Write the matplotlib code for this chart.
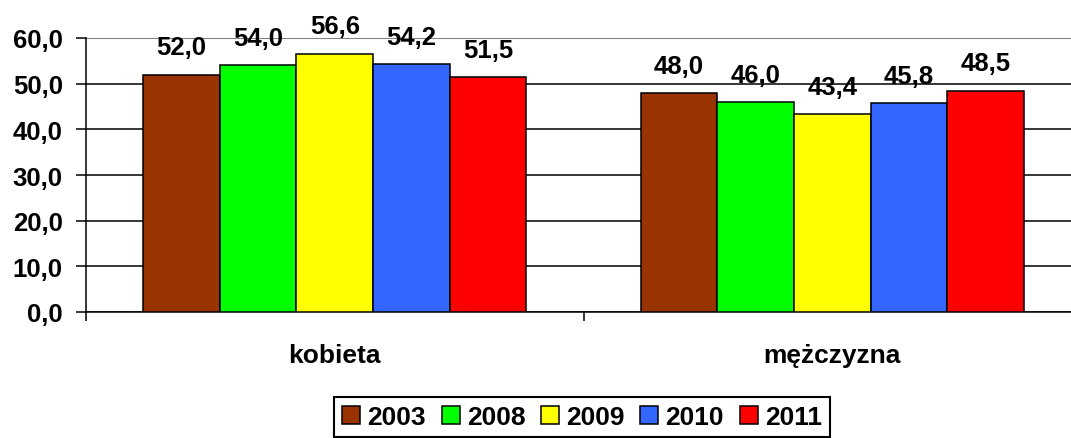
import matplotlib
matplotlib.use("Agg")
import matplotlib.pyplot as plt
import numpy as np

# dane z wykresu
kategorie = ['kobieta', 'mężczyzna']
lata = ['2003', '2008', '2009', '2010', '2011']
wartosci = {
    '2003': [52.0, 48.0],
    '2008': [54.0, 46.0],
    '2009': [56.6, 43.4],
    '2010': [54.2, 45.8],
    '2011': [51.5, 48.5],
}
kolory = ['#993300', '#00FF00', '#FFFF00', '#3366FF', '#FF0000']
y_ticks = [0, 10, 20, 30, 40, 50, 60]

plt.rcParams['font.family'] = ['Liberation Sans', 'DejaVu Sans']
plt.rcParams['font.weight'] = 'bold'

fig = plt.figure(figsize=(10.71, 4.39), dpi=100)
ax = fig.add_axes([86 / 1071, 126 / 439, 995 / 1071, 274 / 439])

x = np.arange(len(kategorie))
szer = 0.154
for i, rok in enumerate(lata):
    poz = x + (i - 2) * szer
    ax.bar(poz, wartosci[rok], width=szer, color=kolory[i], edgecolor='black',
           linewidth=1.1, label=rok, zorder=3)
    for xx, v in zip(poz, wartosci[rok]):
        ax.annotate(f'{v:.1f}'.replace('.', ','), (xx, v), xytext=(0, 14.5),
                    textcoords='offset points', ha='center', va='baseline',
                    fontsize=18.5, fontweight='bold', zorder=4)

ax.set_xlim(-0.5, 1.5)
ax.set_ylim(0, 60)

# os Y
ax.set_yticks(y_ticks)
ax.set_yticklabels([f'{t:.1f}'.replace('.', ',') for t in y_ticks],
                   fontsize=18.5, fontweight='bold')
ax.tick_params(axis='y', direction='out', length=7.2, width=1.1, pad=9.5)
ax.yaxis.grid(True, color='black', linewidth=1.1, zorder=0)
ax.set_axisbelow(True)
for t in ax.yaxis.get_major_ticks():
    if abs(t.get_loc() - 60) < 1e-6:
        t.gridline.set_color('#808080')
        t.gridline.set_linewidth(1.5)

# os X
ax.set_xticks([-0.5, 0.5, 1.5])
ax.set_xticklabels([])
ax.set_xticks(x, minor=True)
ax.set_xticklabels(kategorie, minor=True, fontsize=19, fontweight='bold')
ax.tick_params(axis='x', which='major', direction='out', length=6.5, width=1.1)
ax.tick_params(axis='x', which='minor', length=0, pad=22)

for s in ['top', 'right']:
    ax.spines[s].set_visible(False)
for s in ['left', 'bottom']:
    ax.spines[s].set_linewidth(1.1)
    ax.spines[s].set_color('black')

leg = fig.legend(loc='center', bbox_to_anchor=(582 / 1071, 1 - 418 / 439),
                 ncol=5, fontsize=19, frameon=True, fancybox=False,
                 handlelength=0.68, handleheight=0.68, handletextpad=0.27,
                 columnspacing=0.6, borderpad=0.3, borderaxespad=0)
leg.get_frame().set_edgecolor('black')
leg.get_frame().set_linewidth(1.5)
leg.get_frame().set_alpha(1)
for t in leg.get_texts():
    t.set_fontweight('bold')

fig.savefig('out.png', dpi=100)
